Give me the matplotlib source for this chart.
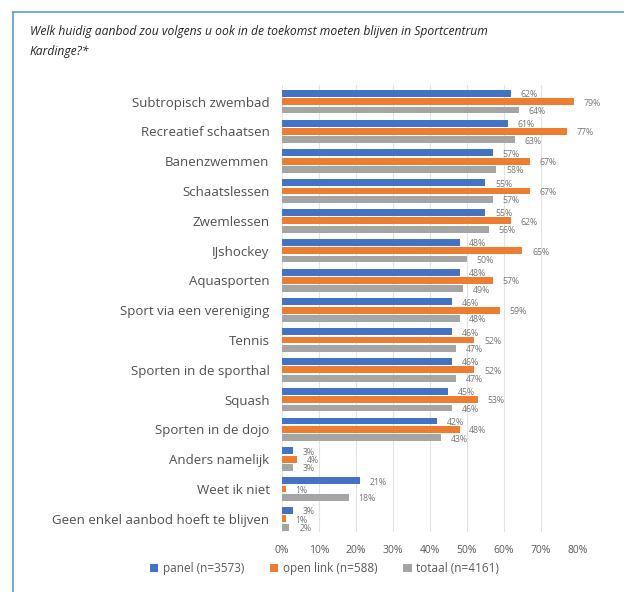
import numpy as np
import matplotlib.pyplot as plt
from matplotlib.lines import Line2D

# ==================== DATOS ====================
categorias = [
    "Subtropisch zwembad", "Recreatief schaatsen", "Banenzwemmen",
    "Schaatslessen", "Zwemlessen", "IJshockey", "Aquasporten",
    "Sport via een vereniging", "Tennis", "Sporten in de sporthal",
    "Squash", "Sporten in de dojo", "Anders namelijk", "Weet ik niet",
    "Geen enkel aanbod hoeft te blijven",
]
panel = [62, 61, 57, 55, 55, 48, 48, 46, 46, 46, 45, 42, 3, 21, 3]
open_link = [79, 77, 67, 67, 62, 65, 57, 59, 52, 52, 53, 48, 4, 1, 1]
totaal = [64, 63, 58, 57, 56, 50, 49, 48, 47, 47, 46, 43, 3, 18, 2]

series = ["panel (n=3573)", "open link (n=588)", "totaal (n=4161)"]
colores = ["#4472C4", "#ED7D31", "#A5A5A5"]

plt.rcParams['font.family'] = ['Open Sans', 'DejaVu Sans']

fig = plt.figure(figsize=(6.24, 5.92), dpi=100)
ax = fig.add_axes([0.452, 0.101, 0.474, 0.755])

y = np.arange(len(categorias))
alto = 0.23
paso = 0.28
for i, (vals, nombre, col) in enumerate(zip([panel, open_link, totaal], series, colores)):
    pos = y + (i - 1) * paso
    ax.barh(pos, np.array(vals) / 100, height=alto, color=col, label=nombre)
    for p, v in zip(pos, vals):
        ax.annotate(f"{v}%", (v / 100, p), xytext=(7, -1), textcoords='offset points',
                    ha='left', va='center', fontsize=6.3, color='#767676')

ax.set_yticks(y)
ax.set_yticklabels(categorias, fontsize=9.5, color='#505050')
ax.set_ylim(len(categorias) - 0.55, -0.55)
ax.set_xlim(0, 0.8)
ax.set_xticks(np.arange(0, 0.81, 0.1))
ax.set_xticklabels([f"{int(round(t*100))}%" for t in np.arange(0, 0.81, 0.1)],
                   fontsize=7.5, color='#595959')
ax.tick_params(length=0, pad=9)
ax.tick_params(axis='y', pad=9)
ax.grid(axis='x', color='#E3E3E3', linewidth=0.8)
ax.set_axisbelow(True)
for s in ax.spines.values():
    s.set_visible(False)

fig.legend(loc='center', bbox_to_anchor=(0.52, 0.04), ncol=3, frameon=False,
           fontsize=8.5, handlelength=0.7, handleheight=0.7, columnspacing=2.2,
           handletextpad=0.4, labelcolor='#595959')

fig.text(0.048, 0.957, "Welk huidig aanbod zou volgens u ook in de toekomst moeten blijven in Sportcentrum\nKardinge?*",
         fontsize=8.7, style='italic', color='#262626', va='top', linespacing=1.7)

# marco azul
fig.add_artist(Line2D([0.021, 0.021], [0, 0.98], color='#5B9BD5', linewidth=1.2))
fig.add_artist(Line2D([0.021, 1.0], [0.98, 0.98], color='#5B9BD5', linewidth=1.2))

fig.savefig("out.png", dpi=100)
